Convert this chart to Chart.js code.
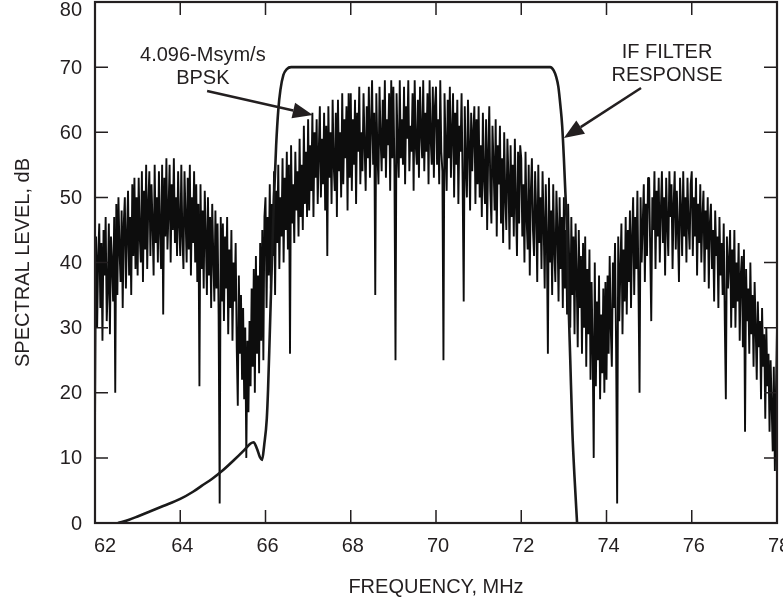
<!DOCTYPE html>
<html>
<head>
<meta charset="utf-8">
<style>
  html, body { margin: 0; padding: 0; background: #fff; }
  #wrap { width: 783px; height: 600px; }
</style>
<script src="https://cdn.jsdelivr.net/npm/chart.js@4.4.1/dist/chart.umd.min.js"></script>
</head>
<body>
<div id="wrap"><canvas id="myChart" width="783" height="600"></canvas></div>
<script>
// axis ticks
const xTicks = [62, 64, 66, 68, 70, 72, 74, 76, 78]
const yTicks = [0, 10, 20, 30, 40, 50, 60, 70, 80]

// BPSK spectrum, one sample every 0.025 MHz starting at 62 MHz (dB)
const specStart = 62
const specStep = 0.025
const spec62 = [15, 44, 30, 41, 46, 33, 43, 28, 45, 38, 47, 31, 36, 46, 29, 44, 40, 34, 47, 20,
    49, 35, 50, 42, 37, 48, 33, 46, 50, 36, 44, 51, 38, 47, 35, 52, 41, 53, 39, 50]
const spec63 = [38, 53, 44, 40, 54, 37, 51, 42, 55, 39, 49, 54, 41, 52, 46, 38, 55, 43, 50, 40,
    54, 45, 39, 55, 32, 53, 44, 56, 42, 48, 55, 40, 52, 45, 56, 43, 50, 41, 54, 46]
const spec64 = [41, 55, 44, 39, 54, 47, 40, 53, 42, 55, 38, 50, 43, 54, 40, 52, 37, 49, 21, 52,
    39, 48, 36, 51, 44, 35, 50, 38, 47, 33, 49, 41, 34, 48, 36, 46, 32, 3, 47, 34]
const spec65 = [46, 31, 44, 36, 47, 29, 42, 33, 45, 28, 40, 34, 43, 27, 18, 38, 26, 35, 22, 33,
    19, 30, 10, 28, 17, 31, 21, 36, 24, 39, 20, 41, 26, 38, 23, 43, 28, 45, 25, 47]
const spec66 = [50, 33, 47, 38, 52, 36, 49, 41, 54, 35, 51, 43, 55, 39, 50, 44, 56, 40, 53, 45,
    57, 42, 55, 26, 58, 46, 52, 43, 57, 48, 54, 44, 59, 47, 55, 45, 61, 49, 57, 47]
const spec67 = [62, 48, 58, 51, 63, 47, 60, 53, 62, 49, 57, 64, 50, 59, 52, 63, 48, 61, 41, 64,
    53, 60, 49, 65, 55, 51, 63, 47, 65, 54, 60, 50, 66, 52, 62, 56, 64, 48, 66, 53]
const spec68 = [66, 51, 62, 55, 65, 49, 63, 57, 67, 52, 60, 54, 66, 58, 51, 64, 56, 67, 53, 61,
    68, 55, 63, 35, 66, 57, 52, 67, 59, 54, 65, 56, 68, 53, 62, 58, 66, 51, 68, 56]
const spec69 = [67, 54, 25, 66, 58, 53, 68, 56, 62, 55, 67, 52, 64, 59, 68, 54, 61, 57, 66, 51,
    68, 58, 55, 65, 53, 67, 60, 56, 68, 54, 63, 57, 66, 52, 68, 59, 55, 67, 53, 64]
const spec70 = [67, 55, 62, 52, 68, 57, 54, 25, 66, 58, 51, 65, 56, 67, 53, 60, 66, 50, 63, 55,
    65, 49, 61, 57, 66, 52, 34, 64, 55, 50, 65, 58, 48, 63, 54, 60, 64, 49, 62, 52]
const spec71 = [64, 50, 58, 47, 63, 53, 49, 62, 45, 57, 64, 51, 46, 61, 55, 48, 62, 44, 58, 52,
    61, 46, 56, 43, 60, 50, 45, 59, 53, 42, 58, 47, 55, 44, 59, 49, 41, 57, 46, 58]
const spec72 = [56, 44, 52, 40, 57, 47, 42, 55, 38, 51, 56, 45, 41, 54, 48, 37, 55, 43, 50, 39,
    54, 46, 36, 52, 44, 26, 53, 40, 48, 35, 52, 42, 37, 51, 45, 34, 50, 39, 47, 33]
const spec73 = [50, 36, 45, 32, 49, 40, 30, 47, 35, 44, 29, 46, 38, 27, 45, 33, 41, 26, 43, 30,
    44, 24, 39, 29, 42, 22, 37, 27, 10, 40, 21, 34, 25, 38, 19, 32, 23, 36, 20, 37]
const spec74 = [22, 38, 26, 41, 30, 24, 40, 33, 43, 27, 3, 44, 31, 39, 46, 29, 42, 34, 47, 32,
    45, 37, 48, 33, 44, 50, 35, 47, 39, 51, 36, 20, 50, 40, 46, 52, 37, 49, 41, 53]
const spec75 = [53, 42, 31, 50, 45, 54, 39, 51, 44, 53, 40, 48, 54, 43, 50, 38, 53, 46, 41, 54,
    47, 52, 39, 49, 54, 42, 51, 45, 37, 53, 48, 41, 54, 44, 50, 40, 53, 46, 42, 52]
const spec76 = [54, 41, 50, 44, 53, 38, 49, 43, 52, 40, 47, 51, 37, 48, 42, 50, 36, 46, 49, 39,
    45, 34, 48, 41, 44, 33, 47, 38, 43, 35, 46, 31, 19, 44, 36, 40, 45, 30, 42, 33]
const spec77 = [45, 30, 40, 34, 43, 28, 38, 41, 27, 42, 14, 39, 31, 36, 26, 40, 29, 35, 24, 37,
    30, 22, 34, 27, 31, 19, 33, 24, 29, 16, 30, 21, 26, 14, 25, 18, 11, 24, 8, 20]
const spec78 = [30]

// IF filter response
const filterFreq = [62.54, 62.8, 63.0, 63.3, 63.6, 64.0, 64.3, 64.5, 64.75, 65.0,
    65.25, 65.5, 65.65, 65.72, 65.8, 65.87, 65.92, 65.97, 66.03, 66.06,
    66.1, 66.15, 66.2, 66.25, 66.3, 66.35, 66.42, 66.5, 66.6, 72.68,
    72.76, 72.82, 72.87, 72.92, 72.96, 73.0, 73.04, 73.07, 73.1, 73.15,
    73.2, 73.25, 73.31]
const filterLevel = [0, 0.5, 1.0, 1.8, 2.6, 3.7, 4.8, 5.7, 6.8, 8.1,
    9.6, 11.2, 12.2, 12.4, 11.4, 10.1, 9.7, 12, 16, 20.5,
    29, 40, 50, 58, 63.4, 66.5, 68.8, 69.7, 70, 70,
    69.5, 68.5, 67, 64, 61, 56, 50, 45, 36, 25,
    14, 7, 0]

// callouts, placed in data units
const notes = [
    { lines: ['4.096-Msym/s', 'BPSK'], x: 64.53, y: [71.86, 68.25], from: [64.63, 66.33], to: [67.11, 62.65] },
    { lines: ['IF FILTER', 'RESPONSE'], x: 75.42, y: [72.25, 68.79], from: [74.81, 66.79], to: [73.0, 59.12] },
]

const INK = '#231f20'
const FONT = '"Liberation Sans", Arial, Helvetica, sans-serif'

const spectrum = [].concat(spec62, spec63, spec64, spec65, spec66, spec67, spec68, spec69,
    spec70, spec71, spec72, spec73, spec74, spec75, spec76, spec77, spec78)
const spectrumPoints = spectrum.map((v, i) => ({ x: specStart + i * specStep, y: v }))
const filterPoints = filterFreq.map((f, i) => ({ x: f, y: filterLevel[i] }))

// draw an arrow with a filled head
function arrow(ctx, x0, y0, x1, y1) {
    const ang = Math.atan2(y1 - y0, x1 - x0)
    const len = 20
    const half = 8
    const bx = x1 - len * Math.cos(ang)
    const by = y1 - len * Math.sin(ang)
    ctx.lineWidth = 2.5
    ctx.beginPath()
    ctx.moveTo(x0, y0)
    ctx.lineTo(bx, by)
    ctx.stroke()
    ctx.beginPath()
    ctx.moveTo(x1, y1)
    ctx.lineTo(bx + half * Math.sin(ang), by - half * Math.cos(ang))
    ctx.lineTo(bx - half * Math.sin(ang), by + half * Math.cos(ang))
    ctx.closePath()
    ctx.fill()
}

// frame, inward ticks, tick labels and callouts
const frame = {
    id: 'frame',
    afterDatasetsDraw(chart) {
        const { ctx, chartArea: a, scales: { x, y } } = chart
        ctx.save()
        ctx.strokeStyle = INK
        ctx.fillStyle = INK

        ctx.lineWidth = 1.5
        ctx.beginPath()
        for (const v of xTicks) {
            const px = x.getPixelForValue(v)
            ctx.moveTo(px, a.bottom); ctx.lineTo(px, a.bottom - 13)
            ctx.moveTo(px, a.top); ctx.lineTo(px, a.top + 13)
        }
        for (const v of yTicks) {
            const py = y.getPixelForValue(v)
            ctx.moveTo(a.left, py); ctx.lineTo(a.left + 13, py)
            ctx.moveTo(a.right, py); ctx.lineTo(a.right - 13, py)
        }
        ctx.stroke()

        ctx.lineWidth = 2.2
        ctx.strokeRect(a.left, a.top, a.right - a.left, a.bottom - a.top)

        ctx.font = '20px ' + FONT
        ctx.textBaseline = 'middle'
        ctx.textAlign = 'center'
        for (const v of xTicks) {
            const px = x.getPixelForValue(v) + 2
            ctx.fillText(String(v), Math.max(px, a.left + 10), a.bottom + 23)
        }
        ctx.textAlign = 'right'
        for (const v of yTicks) {
            const py = y.getPixelForValue(v) + 1
            ctx.fillText(String(v), a.left - 13, Math.max(py, a.top + 8))
        }

        ctx.textAlign = 'center'
        for (const n of notes) {
            n.lines.forEach((t, i) => {
                ctx.fillText(t, x.getPixelForValue(n.x), y.getPixelForValue(n.y[i]))
            })
            arrow(ctx,
                x.getPixelForValue(n.from[0]), y.getPixelForValue(n.from[1]),
                x.getPixelForValue(n.to[0]), y.getPixelForValue(n.to[1]))
        }
        ctx.restore()
    }
}

const ctx = document.getElementById('myChart').getContext('2d')
const myChart = new Chart(ctx, {
    type: 'line',
    data: {
        datasets: [
            {
                label: 'IF filter response',
                data: filterPoints,
                borderColor: '#1a1a1a',
                borderWidth: 2.6,
                pointRadius: 0,
                cubicInterpolationMode: 'monotone',
            },
            {
                label: '4.096-Msym/s BPSK',
                data: spectrumPoints,
                borderColor: '#0d0d0d',
                borderWidth: 1.9,
                borderJoinStyle: 'bevel',
                pointRadius: 0,
                tension: 0,
            },
        ]
    },
    options: {
        responsive: false,
        animation: false,
        devicePixelRatio: 1,
        layout: { padding: { top: 2, right: 6, left: 0, bottom: 0 } },
        plugins: {
            legend: { display: false },
            tooltip: { enabled: false },
        },
        scales: {
            x: {
                type: 'linear',
                min: 62,
                max: 78,
                grid: { display: false },
                border: { display: false },
                ticks: { display: false, stepSize: 2 },
                title: {
                    display: true,
                    text: 'FREQUENCY, MHz',
                    color: INK,
                    font: { family: FONT, size: 20 },
                    padding: { top: 0, bottom: 1 },
                },
                afterFit(s) {
                    s.height = 77
                    s.paddingLeft = 0
                    s.paddingRight = 0
                },
            },
            y: {
                min: 0,
                max: 80,
                grid: { display: false },
                border: { display: false },
                ticks: { display: false, stepSize: 10 },
                title: {
                    display: true,
                    text: 'SPECTRAL LEVEL, dB',
                    color: INK,
                    font: { family: FONT, size: 20 },
                    padding: { top: 11, bottom: 0 },
                },
                afterFit(s) {
                    s.width = 95
                    s.paddingTop = 0
                    s.paddingBottom = 0
                },
            },
        },
    },
    plugins: [frame],
})
</script>
</body>
</html>
